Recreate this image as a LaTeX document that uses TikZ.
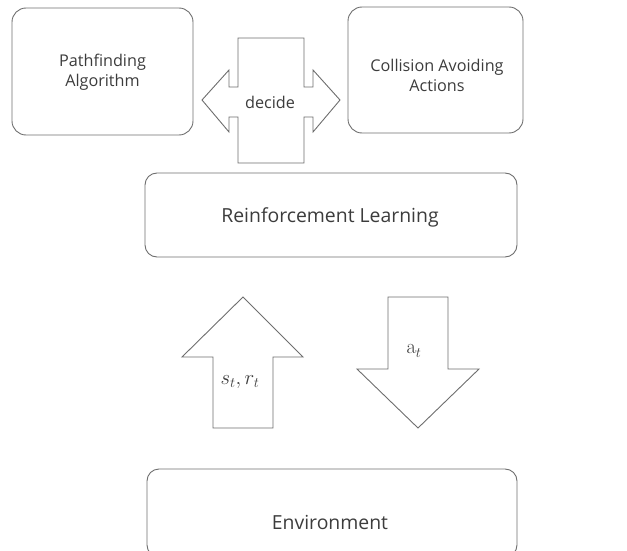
\documentclass[tikz,border=0pt]{standalone}
\usepackage[no-math]{fontspec}
\setmainfont{Open Sans}
\usepackage{amsmath}
\definecolor{edge}{HTML}{6E6E6E}
\definecolor{txt}{HTML}{3C3C3C}
\begin{document}
\begin{tikzpicture}[x=1pt,y=-1pt,
  box/.style={draw=edge,line width=0.9pt,rounded corners=14pt,text=txt,align=center,inner sep=0pt},
  lbl/.style={text=txt,font=\fontsize{16.2}{20}\selectfont,align=center,inner sep=0pt},
  biglbl/.style={text=txt,font=\fontsize{19.4}{23}\selectfont,align=center,inner sep=0pt},
  mathlbl/.style={text=txt,font=\fontsize{22}{26}\selectfont,inner sep=0pt},
  blockarrow/.style={draw=edge,line width=0.9pt,fill=white,line join=miter}]
\useasboundingbox (0,0) rectangle (627,551);
\clip (0,0) rectangle (627,551);
% boxes
\node[box,minimum width=181pt,minimum height=127pt] (pf) at (102.5,71.5) {};
\node[lbl] (pft) at (102.5,72) {Pathfinding\\Algorithm};
\node[box,minimum width=175pt,minimum height=126pt] (ca) at (435.5,70) {};
\node[lbl] (cat) at (437,75) {Collision Avoiding\\Actions};
\node[box,minimum width=372pt,minimum height=84pt,rounded corners=12pt] (rl) at (331,215) {};
\node[biglbl] (rlt) at (330,217) {Reinforcement Learning};
\node[box,minimum width=370pt,minimum height=88pt,rounded corners=12pt] (env) at (332,513) {};
\node[biglbl] (envt) at (330,522) {Environment};
% decide cross arrow
\draw[blockarrow] (238,38) -- (304,38) -- (304,87) -- (313,87) -- (313,70) -- (340,100)
  -- (313,132) -- (313,117) -- (304,117) -- (304,163) -- (238,163) -- (238,117)
  -- (229,117) -- (229,132) -- (202,100) -- (229,70) -- (229,87) -- (238,87) -- cycle;
\node[lbl] (dec) at (270,102) {decide};
% up arrow
\draw[blockarrow] (243,297) -- (303,357) -- (273,357) -- (273,428) -- (213,428) -- (213,357) -- (182,357) -- cycle;
\node[mathlbl] (sr) at (240,382) {$s_t,r_t$};
% down arrow
\draw[blockarrow] (388,297) -- (448,297) -- (448,369) -- (479,369) -- (418,428) -- (357,369) -- (388,369) -- cycle;
\node[mathlbl] (at) at (414,351) {$\mathrm{a}_t$};
\end{tikzpicture}
\end{document}
